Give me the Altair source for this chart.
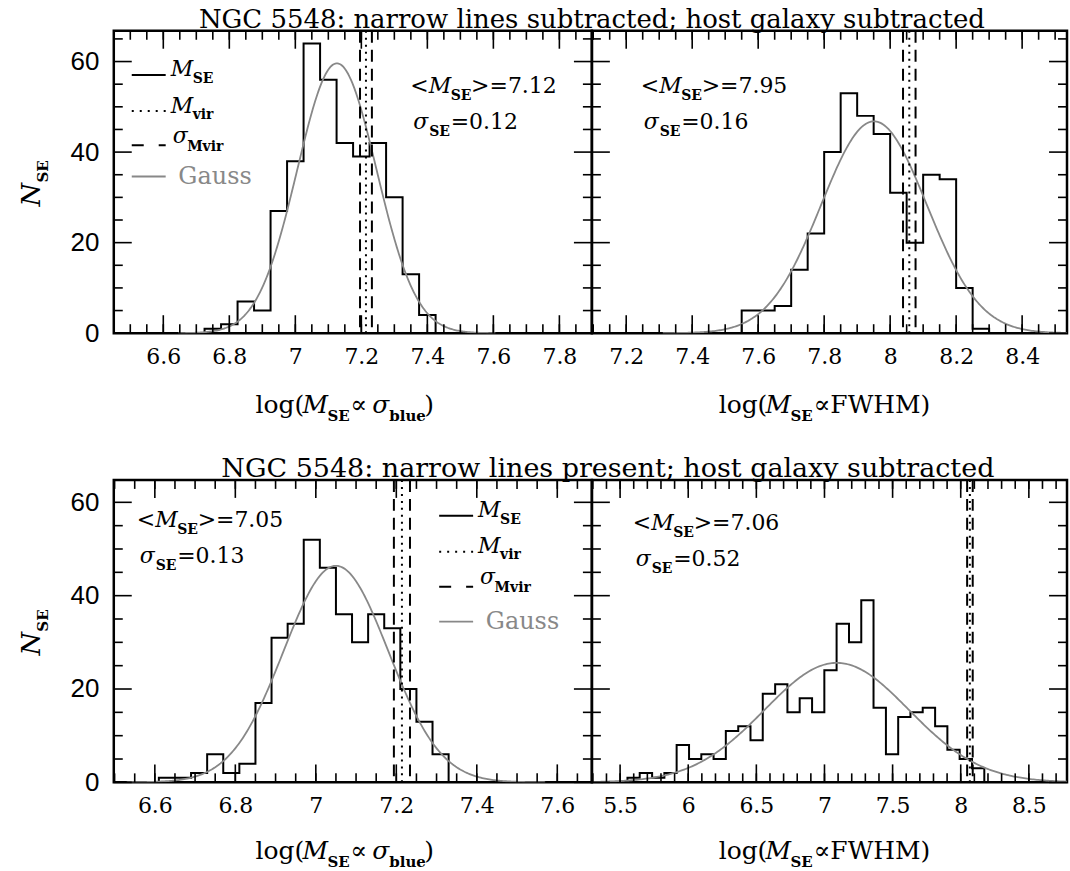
import altair as alt
import pandas as pd
import numpy as np

FONT = "DejaVu Serif"
YFONT = "Liberation Sans"
GRAY = "#888888"

# ---------------- data ----------------
# top-left: sigma_blue, narrow lines subtracted
tl_edges = [6.725, 6.775, 6.825, 6.875, 6.925, 6.975, 7.025, 7.075, 7.125, 7.175,
            7.225, 7.275, 7.325, 7.375, 7.425]
tl_counts = [1, 2, 7, 5, 27, 38, 64, 56, 42, 39, 42, 30, 13, 4]
# top-right: FWHM, narrow lines subtracted
tr_edges = [7.55, 7.60, 7.65, 7.70, 7.75, 7.80, 7.85, 7.90, 7.95, 8.00, 8.05,
            8.10, 8.15, 8.20, 8.25, 8.30]
tr_counts = [5, 5, 6, 14, 22, 40, 53, 48, 44, 31, 20, 35, 34, 10, 1]
# bottom-left: sigma_blue, narrow lines present
bl_edges = [6.61, 6.65, 6.69, 6.73, 6.77, 6.81, 6.85, 6.89, 6.93, 6.97, 7.01,
            7.05, 7.09, 7.13, 7.17, 7.21, 7.25, 7.29, 7.33]
bl_counts = [1, 1, 2, 6, 2, 4, 17, 31, 34, 52, 46, 36, 30, 36, 33, 20, 13, 6]
# bottom-right: FWHM, narrow lines present
br_edges = [5.554, 5.644, 5.735, 5.825, 5.915, 6.006, 6.096, 6.186, 6.276, 6.367,
            6.457, 6.547, 6.638, 6.728, 6.818, 6.909, 6.999, 7.089, 7.180, 7.270,
            7.360, 7.451, 7.541, 7.631, 7.721, 7.812, 7.902, 7.992, 8.083, 8.173]
br_counts = [1, 2, 1, 2, 8, 5, 6, 5, 11, 12, 9, 19, 21, 15, 18, 15, 24, 34, 30, 39,
             16, 6, 14, 15, 16, 12, 7, 5, 3]

# Gaussian fits: centre, sigma, peak height
gauss_tl = (7.126, 0.12, 59.6)
gauss_tr = (7.951, 0.16, 46.8)
gauss_bl = (7.050, 0.13, 46.4)
gauss_br = (7.090, 0.53, 25.6)

# virial mass and its error band: (M_vir, lower, upper)
vir_tl = (7.214, 7.196, 7.232)
vir_tr = (8.058, 8.039, 8.077)
vir_bl = (7.214, 7.194, 7.234)
vir_br = (8.067, 8.047, 8.088)

mean_txt = ["7.12", "7.95", "7.05", "7.06"]
sig_txt = ["0.12", "0.16", "0.13", "0.52"]

# axis ticks
tl_xmajor = [6.6, 6.8, 7.0, 7.2, 7.4, 7.6, 7.8]
tr_xmajor = [7.2, 7.4, 7.6, 7.8, 8.0, 8.2, 8.4]
bl_xmajor = [6.6, 6.8, 7.0, 7.2, 7.4, 7.6]
br_xmajor = [5.5, 6.0, 6.5, 7.0, 7.5, 8.0, 8.5]
y_major = [0, 20, 40, 60]
y_minor = [5, 10, 15, 25, 30, 35, 45, 50, 55, 65]

title_top = "NGC 5548: narrow lines subtracted; host galaxy subtracted"
title_bot = "NGC 5548: narrow lines present; host galaxy subtracted"

ONE = pd.DataFrame({"k": [0]})


def minor_ticks(start, step, n, dom):
    vals = [round(start + step * i, 4) for i in range(n)]
    return [v for v in vals if dom[0] < v < dom[1]]


def hist_df(edges, counts):
    xs = [edges[0]]
    ys = [0]
    for e, c in zip(edges[:-1], counts):
        xs.append(e)
        ys.append(c)
    xs.append(edges[-1])
    ys.append(0)
    return pd.DataFrame({"x": xs, "y": ys, "o": list(range(len(xs)))})


def gauss_df(g, dom):
    mu, sg, amp = g
    lo = max(mu - 4 * sg, dom[0])
    hi = min(mu + 4 * sg, dom[1])
    x = np.linspace(lo, hi, 300)
    return pd.DataFrame({"x": x, "y": amp * np.exp(-0.5 * ((x - mu) / sg) ** 2)})


def txt(s, x, y, size=22, style="normal", weight="normal", color="black",
        align="left", angle=0, font=FONT):
    return alt.Chart(ONE).mark_text(
        text=s, fontSize=size, fontStyle=style, fontWeight=weight, color=color,
        align=align, baseline="alphabetic", angle=angle, font=font
    ).encode(x=alt.value(x), y=alt.value(y))


def hseg(x1, x2, y, color="black", width=2, dash=None):
    kw = dict(color=color, strokeWidth=width)
    if dash:
        kw["strokeDash"] = dash
    return alt.Chart(ONE).mark_rule(**kw).encode(
        x=alt.value(x1), x2=alt.value(x2), y=alt.value(y))


def annot(bx, by, m, s):
    return [
        txt("<", bx - 3, by),
        txt("M", bx + 15.5, by, style="italic"),
        txt("SE", bx + 37.5, by + 7.3, size=14, weight="bold"),
        txt(">=" + m, bx + 58, by),
        txt("σ", bx, by + 36, style="italic"),
        txt("SE", bx + 16, by + 43.3, size=14, weight="bold"),
        txt("=" + s, bx + 37.5, by + 36),
    ]


def legend(lx, ly, dys):
    d0, d1, d2, d3 = dys
    return [
        hseg(lx, lx + 34, ly + d0),
        txt("M", lx + 39, ly + d0 + 1, style="italic"),
        txt("SE", lx + 61, ly + d0 + 7.7, size=14, weight="bold"),
        hseg(lx, lx + 34, ly + d1, dash=[2, 6]),
        txt("M", lx + 39, ly + d1 + 1.7, style="italic"),
        txt("vir", lx + 61, ly + d1 + 7.7, size=14, weight="bold"),
        hseg(lx, lx + 34, ly + d2, dash=[12, 15]),
        txt("σ", lx + 41, ly + d2 - 2.7, style="italic"),
        txt("Mvir", lx + 55.5, ly + d2 + 5.6, size=14, weight="bold"),
        hseg(lx, lx + 34, ly + d3, color=GRAY, width=1.8),
        txt("Gauss", lx + 46.7, ly + d3 + 7.7, size=24, color=GRAY),
    ]


def xtitle(bx, by, tail):
    parts = [
        txt("log(", bx, by, size=25),
        txt("M", bx + 47, by, size=25, style="italic"),
        txt("SE", bx + 72, by + 8, size=15, weight="bold"),
    ]
    if tail == "sigma":
        parts += [
            txt("∝", bx + 95, by, size=25),
            txt("σ", bx + 117, by, size=25, style="italic"),
            txt("blue", bx + 134, by + 8, size=15, weight="bold"),
            txt(")", bx + 169, by, size=25),
        ]
    else:
        parts += [txt("∝FWHM)", bx + 95, by, size=25)]
    return parts


def panel(edges, counts, g, vir, xdom, ydom, w, h, xmajor, xminor, ylabels, extras):
    xs = alt.Scale(domain=xdom, nice=False, zero=False)
    ys = alt.Scale(domain=ydom, nice=False, zero=False)
    xaxis = alt.Axis(values=xmajor, format=".1~f", labelFont=FONT, labelFontSize=22,
                     labelPadding=13, labelColor="black", ticks=False, tickSize=0,
                     domain=False, grid=False, title=None, labelFlush=False,
                     labelOverlap=False)
    if ylabels:
        yaxis = alt.Axis(values=y_major, format="d", labelFont=YFONT, labelFontSize=26,
                         labelPadding=15, labelColor="black", ticks=False, tickSize=0,
                         domain=False, grid=False, title=None, labelFlush=False,
                         labelOverlap=False)
    else:
        yaxis = None

    def X(field="x"):
        return alt.X(f"{field}:Q", scale=xs, axis=xaxis, title=None)

    def Y(field="y"):
        return alt.Y(f"{field}:Q", scale=ys, axis=yaxis, title=None)

    layers = []
    layers.append(
        alt.Chart(hist_df(edges, counts)).mark_line(
            interpolate="step-after", color="black", strokeWidth=2, clip=True
        ).encode(x=X(), y=Y(), order="o:Q")
    )
    layers.append(
        alt.Chart(gauss_df(g, xdom)).mark_line(color=GRAY, strokeWidth=1.8, clip=True)
        .encode(x=X(), y=Y())
    )
    layers.append(
        alt.Chart(pd.DataFrame({"x": [vir[0]]})).mark_rule(
            color="black", strokeWidth=2, strokeDash=[2, 5])
        .encode(x=X())
    )
    layers.append(
        alt.Chart(pd.DataFrame({"x": [vir[1], vir[2]]})).mark_rule(
            color="black", strokeWidth=2, strokeDash=[12, 7])
        .encode(x=X())
    )
    # inward tick marks on all four sides
    for vals, ln in ((xmajor, 18), (xminor, 9)):
        df = pd.DataFrame({"x": vals})
        for y1, y2 in ((h, h - ln), (0, ln)):
            layers.append(
                alt.Chart(df).mark_rule(color="black", strokeWidth=1.6)
                .encode(x=X(), y=alt.value(y1), y2=alt.value(y2))
            )
    ymin = [v for v in y_minor if v < ydom[1]]
    for vals, ln in ((y_major, 18), (ymin, 9)):
        df = pd.DataFrame({"y": vals})
        for x1, x2 in ((0, ln), (w, w - ln)):
            layers.append(
                alt.Chart(df).mark_rule(color="black", strokeWidth=1.6)
                .encode(y=Y(), x=alt.value(x1), x2=alt.value(x2))
            )
    layers += extras
    return alt.layer(*layers).properties(width=w, height=h)


W_L, W_R, H = 479, 476, 303
dom_tl = [6.45, 7.8985]
dom_tr = [7.096, 8.536]
dom_bl = [6.498, 7.686]
dom_br = [5.293, 8.780]
ydom_top = [0, 66.8]
ydom_bot = [0, 64.8]

ytitle = [
    txt("N", -74, 176, size=27, style="italic", angle=270),
    txt("SE", -66, 152, size=15, weight="bold", angle=270),
]

tl_extra = ([alt.Chart(ONE).mark_rule(color="white", strokeWidth=1)
             .encode(x=alt.value(-112), x2=alt.value(-111), y=alt.value(-28))]
            + annot(300, 62, mean_txt[0], sig_txt[0])
            + legend(18, 44.3, (0, 36, 70.4, 101.7))
            + xtitle(142, 383, "sigma") + ytitle
            + [txt(title_top, W_L, -3, size=26, align="center")])
tr_extra = annot(52, 62, mean_txt[1], sig_txt[1]) + xtitle(127, 383, "fwhm")
bl_extra = (annot(26, 47, mean_txt[2], sig_txt[2])
            + legend(326, 36, (0, 36, 71, 106))
            + xtitle(142, 380, "sigma") + ytitle
            + [txt(title_bot, W_L + 16, -3, size=27, align="center")])
br_extra = annot(44, 50, mean_txt[3], sig_txt[3]) + xtitle(127, 380, "fwhm")

tl = panel(tl_edges, tl_counts, gauss_tl, vir_tl, dom_tl, ydom_top, W_L, H,
           tl_xmajor, minor_ticks(6.45, 0.05, 32, dom_tl), True, tl_extra)
tr = panel(tr_edges, tr_counts, gauss_tr, vir_tr, dom_tr, ydom_top, W_R, H,
           tr_xmajor, minor_ticks(7.1, 0.05, 32, dom_tr), False, tr_extra)
bl = panel(bl_edges, bl_counts, gauss_bl, vir_bl, dom_bl, ydom_bot, W_L, H,
           bl_xmajor, minor_ticks(6.5, 0.05, 26, dom_bl), True, bl_extra)
br = panel(br_edges, br_counts, gauss_br, vir_br, dom_br, ydom_bot, W_R, H,
           br_xmajor, minor_ticks(5.3, 0.1, 36, dom_br), False, br_extra)

chart = alt.concat(tl, tr, bl, br, columns=2, spacing={"row": 147, "column": 0},
                   bounds="flush").configure(
    padding=0, background="white"
).configure_view(stroke="black", strokeWidth=2.5)

chart.save("out.html", embed_options={"renderer": "svg", "actions": False})
